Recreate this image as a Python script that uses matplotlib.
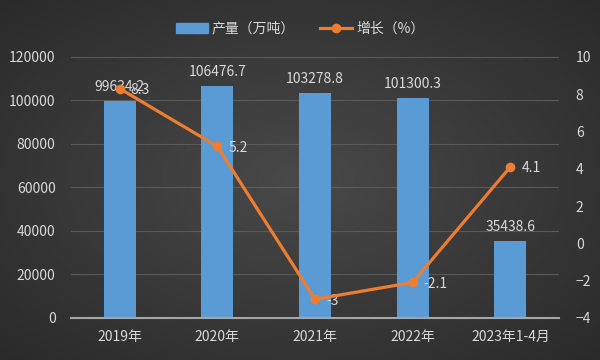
import numpy as np
import matplotlib
matplotlib.use("Agg")
import matplotlib.pyplot as plt
from matplotlib.lines import Line2D
from matplotlib.patches import Patch

plt.rcParams['font.family'] = ['Noto Sans CJK SC', 'DejaVu Sans']

categories = ["2019年", "2020年", "2021年", "2022年", "2023年1-4月"]
output = [99634.2, 106476.7, 103278.8, 101300.3, 35438.6]
growth = [8.3, 5.2, -3, -2.1, 4.1]
bar_labels = ["99634.2", "106476.7", "103278.8", "101300.3", "35438.6"]
growth_labels = ["8.3", "5.2", "-3", "-2.1", "4.1"]

TEXT = "#d9d9d9"
BLUE = "#5b9bd5"
ORANGE = "#ed7d31"

fig = plt.figure(figsize=(6, 3.6), dpi=100)

# dark radial background
bg = fig.add_axes([0, 0, 1, 1])
yy, xx = np.mgrid[-1:1:360j, -1:1:600j]
r = np.sqrt(xx ** 2 + yy ** 2) / np.sqrt(2)
bg.imshow(r, cmap=matplotlib.colors.LinearSegmentedColormap.from_list(
    "bg", ["#494949", "#2a2a2a"]), aspect="auto", extent=[0, 1, 0, 1])
bg.set_axis_off()

ax = fig.add_axes([0.118, 0.117, 0.814, 0.725])
ax.patch.set_alpha(0)
x = np.arange(len(categories))
ax.bar(x, output, width=0.33, color=BLUE, zorder=2)
ax.set_ylim(0, 120000)
ax.set_xlim(-0.5, len(categories) - 0.5)
ax.set_yticks(range(0, 120001, 20000))
ax.grid(axis="y", color="#5a5a5a", linewidth=0.8, zorder=0)
ax.set_xticks(x)
ax.set_xticklabels(categories)
ax.tick_params(colors=TEXT, labelsize=10, length=0)
ax.tick_params(axis="y", pad=11)
ax.tick_params(axis="x", pad=9)
for s in ["top", "right", "left"]:
    ax.spines[s].set_visible(False)
ax.spines["bottom"].set_color("#a6a6a6")
ax.spines["bottom"].set_linewidth(1.5)
ax.spines["bottom"].set_zorder(3)

for xi, v, lab in zip(x, output, bar_labels):
    ax.annotate(lab, (xi, v), xytext=(0, 5), textcoords="offset points",
                ha="center", va="bottom", color=TEXT, fontsize=10)

ax2 = ax.twinx()
ax2.plot(x, growth, color=ORANGE, linewidth=2.3, marker="o", markersize=6, zorder=4)
ax2.set_ylim(-4, 10)
ax2.set_yticks(range(-4, 11, 2))
ax2.tick_params(colors=TEXT, labelsize=10, length=0, pad=12)
for s in ["top", "right", "left", "bottom"]:
    ax2.spines[s].set_visible(False)

for xi, v, lab in zip(x, growth, growth_labels):
    ax2.annotate(lab, (xi, v), xytext=(8, -1), textcoords="offset points",
                 ha="left", va="center", color=TEXT, fontsize=10)

handles = [Patch(facecolor=BLUE, edgecolor=BLUE),
           Line2D([0], [0], color=ORANGE, linewidth=2.3, marker="o", markersize=6)]
fig.legend(handles, ["产量（万吨）", "增长（%）"], loc="center",
           bbox_to_anchor=(0.5, 0.92), ncol=2, frameon=False,
           labelcolor=TEXT, fontsize=10, handlelength=2.3, columnspacing=1.8,
           handletextpad=0.3)

fig.savefig("out.png", dpi=100)
